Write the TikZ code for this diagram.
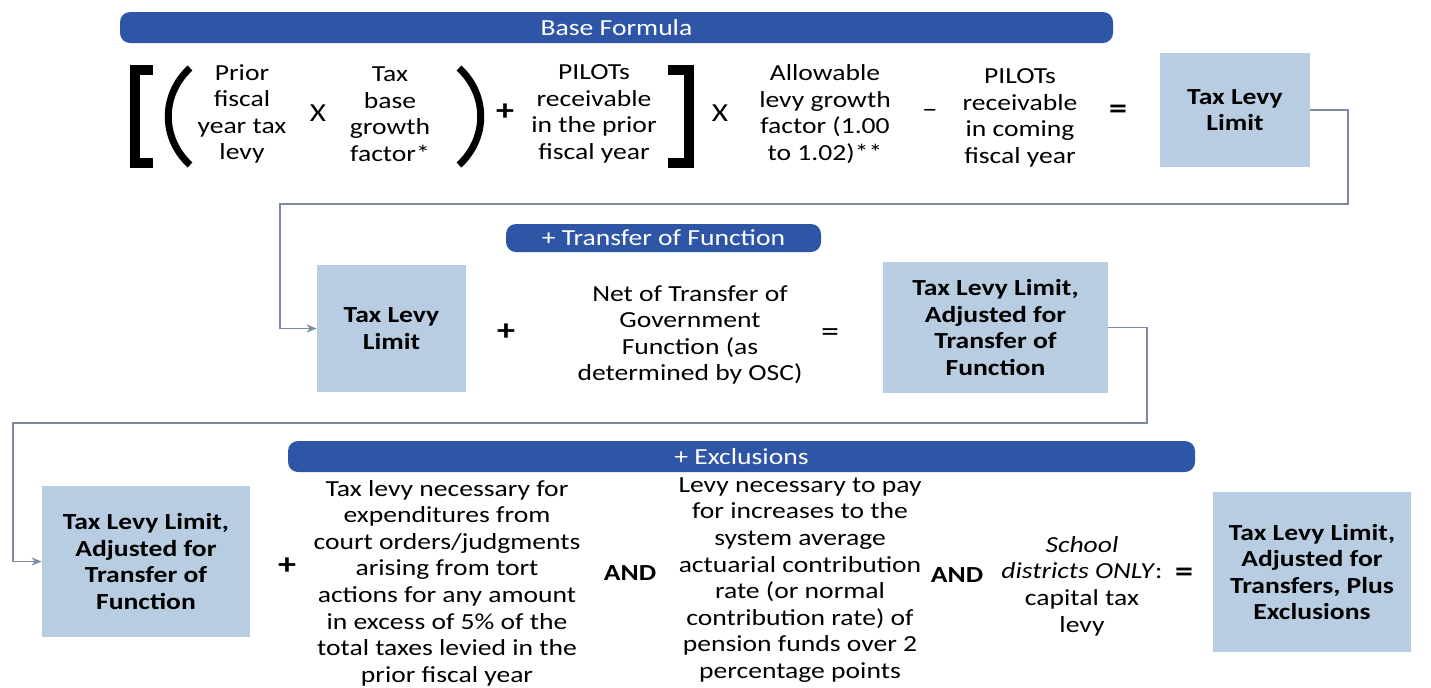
\documentclass[tikz,border=0pt]{standalone}
\usepackage{fontspec}
\setmainfont[FakeStretch=1.2]{Carlito}
\usepackage{xcolor}
\usepackage{tikz}
\usetikzlibrary{arrows.meta}

\definecolor{bandblue}{RGB}{46,85,166}
\definecolor{limitblue}{RGB}{185,205,226}
\definecolor{wiregray}{RGB}{125,138,160}

\begin{document}
\begin{tikzpicture}[
    x = 0.5pt, y = -0.5pt,
    every node/.style = {inner sep=0pt, font=\fontsize{11.5}{13.3}\selectfont},
    band/.style = {fill=bandblue, text=white, rounded corners=5pt},
    limit/.style = {fill=limitblue, align=center, font=\fontsize{11.5}{13.3}\selectfont\bfseries},
    term/.style = {align=center},
    op/.style = {font=\fontsize{13}{13}\selectfont},
    wire/.style = {draw=wiregray, line width=0.7pt, -{Stealth[length=5pt,width=4pt]}},
    fence/.style = {line width=5pt, line join=miter},
    paren/.style = {line width=3.5pt}
  ]
    \useasboundingbox[fill=white] (0,0) rectangle (1431,687);

    % 第一行: Base Formula
    \node[band, minimum width=496.5pt, minimum height=15.5pt] (bandBase) at (616.5,27.5) {Base Formula};
    \draw[fence] (153,70) -- (135,70) -- (135,163) -- (153,163);  % [
    \draw[paren] (190,68) .. controls (161,95) and (161,138) .. (190,165);  % (
    \node[term] (priorLevy) at (242,114) {Prior\\ fiscal\\ year tax\\ levy};
    \node[op] (times1) at (318,113) {X};
    \node[term] (baseGrowth) at (390,114) {Tax\\ base\\ growth\\ factor*};
    \draw[paren] (459,68) .. controls (488,95) and (488,138) .. (459,165);  % )
    \node[op, font=\fontsize{15}{15}\selectfont\bfseries] (plus1) at (505,112) {+};
    \node[term] (pilotsPrior) at (594,114) {PILOTs\\ receivable\\ in the prior\\ fiscal year};
    \draw[fence] (668,70) -- (689,70) -- (689,163) -- (668,163);  % ]
    \node[op] (times2) at (720,113) {X};
    \node[term] (allowable) at (825,114) {Allowable\\ levy growth\\ factor (1.00\\ to 1.02)**};
    \node[op] (minus1) at (930,113) {–};
    \node[term] (pilotsComing) at (1020,118) {PILOTs\\ receivable\\ in coming\\ fiscal year};
    \node[op, font=\fontsize{15}{15}\selectfont\bfseries] (eq1) at (1118,112) {=};
    \node[limit, minimum width=75pt, minimum height=57pt] (limitA) at (1235,110) {Tax Levy\\ Limit};

    % 第二行: Transfer of Function
    \node[band, minimum width=157.5pt, minimum height=14pt] (bandTransfer) at (663.5,238) {+ Transfer of Function};
    \node[limit, minimum width=74.5pt, minimum height=63.5pt] (limitB) at (391.5,328.5) {Tax Levy\\ Limit};
    \node[op, font=\fontsize{15}{15}\selectfont\bfseries] (plus2) at (506,332) {+};
    \node[term] (netTransfer) at (690,335) {Net of Transfer of\\ Government\\ Function (as\\ determined by OSC)};
    \node[op, font=\fontsize{15}{15}\selectfont] (eq2) at (830,335) {=};
    \node[limit, minimum width=112.5pt, minimum height=65.5pt] (adjustedA) at (995.5,327.5) {Tax Levy Limit,\\ Adjusted for\\ Transfer of\\ Function};

    % 第三行: Exclusions
    \node[band, minimum width=453.5pt, minimum height=15.5pt] (bandExcl) at (741.5,456.5) {+ Exclusions};
    \node[limit, minimum width=104pt, minimum height=75.5pt] (adjustedB) at (146,561.5) {Tax Levy Limit,\\ Adjusted for\\ Transfer of\\ Function};
    \node[op, font=\fontsize{15}{15}\selectfont\bfseries] (plus3) at (287,566) {+};
    \node[term] (tortLevy) at (447,583) {Tax levy necessary for\\ expenditures from\\ court orders/judgments\\ arising from tort\\ actions for any amount\\ in excess of 5\% of the\\ total taxes levied in the\\ prior fiscal year};
    \node[font=\fontsize{11.5}{13.3}\selectfont\bfseries] (and1) at (630,573) {AND};
    \node[term] (pensionLevy) at (800,580) {Levy necessary to pay\\ for increases to the\\ system average\\ actuarial contribution\\ rate (or normal\\ contribution rate) of\\ pension funds over 2\\ percentage points};
    \node[font=\fontsize{11.5}{13.3}\selectfont\bfseries] (and2) at (957,575) {AND};
    \node[term] (schoolLevy) at (1082,586) {\textit{School}\\ \textit{districts ONLY}:\\ capital tax\\ levy};
    \node[op, font=\fontsize{15}{15}\selectfont\bfseries] (eq3) at (1184,575) {=};
    \node[limit, minimum width=99pt, minimum height=80pt] (limitFinal) at (1312,572) {Tax Levy Limit,\\ Adjusted for\\ Transfers, Plus\\ Exclusions};

    % 连接线
    \coordinate (turnA) at (1348,204);
    \coordinate (turnB) at (280,204);
    \draw[wire] (limitA.east) -| (turnA) -- (turnB) |- (limitB.west);
    \coordinate (turnC) at (1147,423);
    \coordinate (turnD) at (13,423);
    \draw[wire] (adjustedA.east) -| (turnC) -- (turnD) |- (adjustedB.west);
\end{tikzpicture}
\end{document}
